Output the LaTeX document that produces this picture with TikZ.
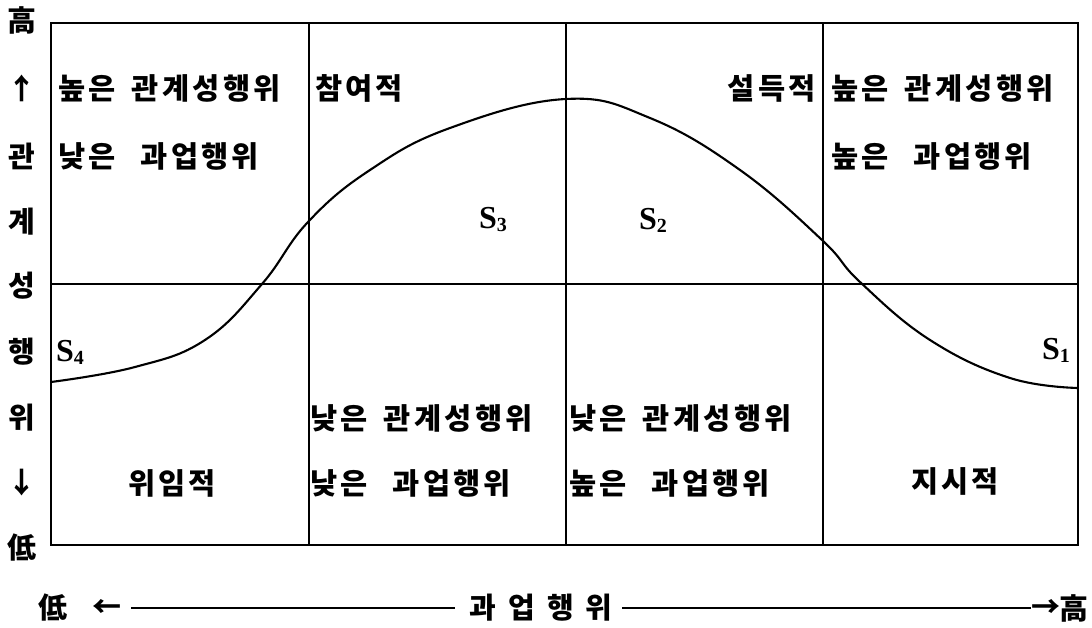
\documentclass[tikz,border=0pt]{standalone}
\usepackage{fontspec}
\setmainfont{Liberation Serif}
\newfontfamily\kr[LetterSpace=11]{Noto Sans CJK KR}
\newfontfamily\krplain{Noto Sans CJK KR}
\newcommand{\Slab}[1]{\textbf{S}\raisebox{-3pt}{\fontsize{20}{20}\selectfont\textbf{#1}}}
\newcommand{\gapA}{\hspace{0.55em}}
\newcommand{\gapB}{\hspace{0.85em}}
\begin{document}
\begin{tikzpicture}[x=1pt,y=-1pt,
  kt/.style={font=\kr\bfseries\fontsize{29.5}{29.5}\selectfont, inner sep=0pt},
  ax/.style={font=\krplain\bfseries\fontsize{29}{29}\selectfont, inner sep=0pt},
  sl/.style={font=\fontsize{32}{32}\selectfont, inner sep=0pt},
  frameline/.style={line width=2.2pt},
  gridline/.style={line width=1.5pt},
  curveline/.style={line width=2.1pt}]
\useasboundingbox (0,0) rectangle (1092,628);
% frame
\coordinate (TL) at (51,23);
\coordinate (BR) at (1078,545);
\draw[frameline] (TL) rectangle (BR);
\draw[gridline] (309,23) -- (309,545);
\draw[gridline] (566,23) -- (566,545);
\draw[gridline] (823,23) -- (823,545);
\draw[gridline] (51,284) -- (1078,284);
% curve
\draw[curveline] plot[smooth, tension=0.7] coordinates {
 (51,382) (135,367) (205,340) (262,284) (308,222) (370,170)
 (450,128) (566,99) (650,118) (740,170) (822,240) (860,282)
 (930,340) (1010,378) (1078,388)};
% left axis
\node[ax] (h1) at (22,20) {高};
\node[ax] (ua) at (22,88) {↑};
\node[ax] (v1) at (22,156) {관};
\node[ax] (v2) at (22,222) {계};
\node[ax] (v3) at (22,286) {성};
\node[ax] (v4) at (22,352) {행};
\node[ax] (v5) at (22,418) {위};
\node[ax] (da) at (22,483) {↓};
\node[ax] (l1) at (22,548) {低};
% bottom axis
\node[ax] (l2) at (53,608) {低};
\node[ax] (la) at (107,608) {←};
\node[ax] (xt) at (541,608) {과\hspace{0.42em}업\hspace{0.42em}행\hspace{0.42em}위};
\node[ax] (ra) at (1046,608) {→};
\node[ax] (h2) at (1074,608) {高};
\coordinate (lb) at (131,608);
\coordinate (lc) at (455,608);
\coordinate (rb) at (622,608);
\draw[line width=1.3pt] (lb) -- (lc);
\draw[line width=1.3pt] (rb) -- (ra.west);
% upper row texts
\node[kt,anchor=west] (q1a) at (58,88) {높은\gapA 관계성행위};
\node[kt,anchor=west] (q1b) at (58,156) {낮은\gapB 과업행위};
\node[kt,anchor=west] (q2) at (315,88) {참여적};
\node[kt,anchor=east] (q3) at (816,88) {설득적};
\node[kt,anchor=west] (q4a) at (831,88) {높은\gapA 관계성행위};
\node[kt,anchor=west] (q4b) at (831,156) {높은\gapB 과업행위};
% lower row texts
\node[kt] (p1) at (172,483) {위임적};
\node[kt,anchor=west] (p2a) at (310,418) {낮은\gapA 관계성행위};
\node[kt,anchor=west] (p2b) at (310,483) {낮은\gapB 과업행위};
\node[kt,anchor=west] (p3a) at (569,418) {낮은\gapA 관계성행위};
\node[kt,anchor=west] (p3b) at (569,483) {높은\gapB 과업행위};
\node[kt] (p4) at (955,481) {지시적};
% S labels
\node[sl,anchor=west] (s4) at (56,352) {\Slab{4}};
\node[sl] (s3) at (493,220) {\Slab{3}};
\node[sl] (s2) at (653,220) {\Slab{2}};
\node[sl,anchor=east] (s1) at (1070,350) {\Slab{1}};
\end{tikzpicture}
\end{document}
